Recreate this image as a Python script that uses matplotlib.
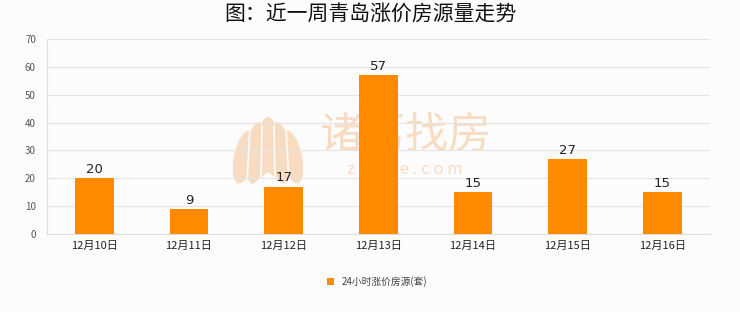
import matplotlib
matplotlib.use("Agg")
import matplotlib.pyplot as plt
from matplotlib.patches import Ellipse, Polygon

plt.rcParams['font.family'] = ['Noto Sans CJK SC', 'DejaVu Sans']

dates = ["12月10日", "12月11日", "12月12日", "12月13日", "12月14日", "12月15日", "12月16日"]
counts = [20, 9, 17, 57, 15, 27, 15]
yticks = [0, 10, 20, 30, 40, 50, 60, 70]
series_name = "24小时涨价房源(套)"
title = "图：近一周青岛涨价房源量走势"

W, H = 740, 312
BG = "#fcfcfc"
fig = plt.figure(figsize=(W / 100, H / 100), dpi=100)
fig.patch.set_facecolor(BG)

# background layer in pixel units for the watermark
bg = fig.add_axes([0, 0, 1, 1], zorder=-1)
bg.set_xlim(0, W)
bg.set_ylim(H, 0)
bg.axis("off")
wm = "#f8dcc2"
# lotus logo: fan of pointed petals
for dx, cy, length, width, ang in [(-24, 157, 54, 20, 12), (-12, 153, 62, 20, 6),
                                   (0, 151, 68, 22, 0), (12, 153, 62, 20, -6),
                                   (24, 157, 54, 20, -12)]:
    bg.add_patch(Ellipse((268 + dx, cy), width, length, angle=ang, color=wm, lw=0))
for dx in (-18, -6, 6, 18):
    bg.plot([268 + dx, 268 + dx * 1.15], [126, 178], color=BG, lw=1.2)
bg.add_patch(Polygon([(250, 187), (268, 172), (286, 187)], closed=True, color=BG, lw=0))
bg.text(405, 136, "诸葛找房", fontsize=31, color=wm, ha="center", va="center")
bg.text(405, 170, "z h u g e . c o m", fontsize=12, color=wm, ha="center", va="center")

ax = fig.add_axes([0.0635, 0.25, 0.8955, 0.625])
ax.set_facecolor("none")

x = range(len(dates))
bars = ax.bar(x, counts, width=0.41, color="#ff8a00", zorder=3, label=series_name)
for xi, v in zip(x, counts):
    ax.text(xi, v + 0.8, str(v), ha="center", va="bottom", fontsize=9.5, color="#222222",
            family=["DejaVu Sans"], zorder=4)

ax.set_xlim(-0.5, len(dates) - 0.5)
ax.set_ylim(0, 70)
ax.set_yticks(yticks)
ax.set_xticks(list(x))
ax.set_xticklabels(dates, fontsize=8, color="#222222", family=["Noto Sans CJK SC"])
ax.tick_params(axis="y", labelsize=7, colors="#555555", length=0, pad=8)
ax.tick_params(axis="x", length=0, pad=5)
ax.grid(axis="y", color="#e4e4e4", linewidth=0.8, zorder=0)
for s in ["top", "right"]:
    ax.spines[s].set_visible(False)
ax.spines["left"].set_color("#dddddd")
ax.spines["bottom"].set_color("#dddddd")

fig.text(0.5, 0.952, title, ha="center", va="center", fontsize=15, fontweight="medium",
         color="#111111")

leg = fig.legend(handles=[bars], labels=[series_name], loc="center", bbox_to_anchor=(0.51, 0.097),
                 frameon=False, fontsize=7, handlelength=0.7, handleheight=0.7, handletextpad=0.8)
for t in leg.get_texts():
    t.set_color("#444444")

fig.savefig("out.png", dpi=100, facecolor=fig.get_facecolor())
